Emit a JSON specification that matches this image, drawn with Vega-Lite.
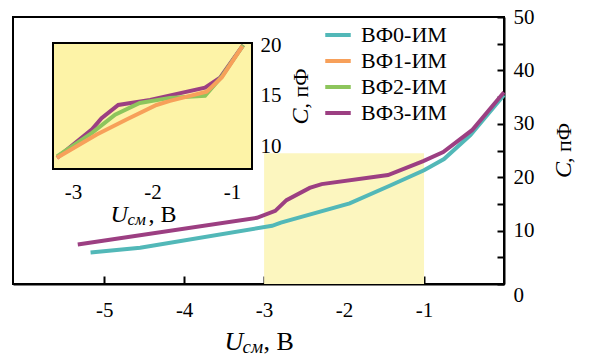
{
  "$schema": "https://vega.github.io/schema/vega-lite/v6.json",
  "width": 491,
  "height": 267,
  "autosize": {"type": "none"},
  "padding": {"left": 13, "top": 17, "right": 86, "bottom": 77},
  "background": "white",
  "config": {
    "font": "Liberation Serif",
    "view": {"stroke": "black", "strokeWidth": 2},
    "axis": {
      "grid": false,
      "zindex": 1,
      "labelFont": "Liberation Serif",
      "labelColor": "black",
      "labelFontSize": 21,
      "tickColor": "black",
      "tickWidth": 2,
      "domainColor": "black",
      "domainWidth": 2,
      "labelFlush": false,
      "labelOverlap": false
    },
    "legend": {"labelFont": "Liberation Serif", "labelColor": "black"},
    "text": {"font": "Liberation Serif", "color": "black"}
  },
  "datasets": {
    "main": [
      {"sample": "ВФ0-ИМ", "u": -5.17, "c": 5.9},
      {"sample": "ВФ0-ИМ", "u": -4.55, "c": 6.8},
      {"sample": "ВФ0-ИМ", "u": -2.9, "c": 10.9},
      {"sample": "ВФ0-ИМ", "u": -2.79, "c": 11.5},
      {"sample": "ВФ0-ИМ", "u": -1.93, "c": 15.1},
      {"sample": "ВФ0-ИМ", "u": -1.43, "c": 18.4},
      {"sample": "ВФ0-ИМ", "u": -1.0, "c": 21.3},
      {"sample": "ВФ0-ИМ", "u": -0.75, "c": 23.4},
      {"sample": "ВФ0-ИМ", "u": -0.42, "c": 27.9},
      {"sample": "ВФ0-ИМ", "u": 0, "c": 35.4},
      {"sample": "ВФ3-ИМ", "u": -5.33, "c": 7.4},
      {"sample": "ВФ3-ИМ", "u": -3.09, "c": 12.4},
      {"sample": "ВФ3-ИМ", "u": -2.86, "c": 13.7},
      {"sample": "ВФ3-ИМ", "u": -2.72, "c": 15.7},
      {"sample": "ВФ3-ИМ", "u": -2.43, "c": 18.0},
      {"sample": "ВФ3-ИМ", "u": -2.28, "c": 18.7},
      {"sample": "ВФ3-ИМ", "u": -1.45, "c": 20.4},
      {"sample": "ВФ3-ИМ", "u": -1.01, "c": 23.0},
      {"sample": "ВФ3-ИМ", "u": -0.76, "c": 24.7},
      {"sample": "ВФ3-ИМ", "u": -0.4, "c": 28.8},
      {"sample": "ВФ3-ИМ", "u": 0, "c": 35.9}
    ],
    "inset": [
      {"sample": "ВФ3-ИМ", "u": -3.2, "c": 8.9},
      {"sample": "ВФ3-ИМ", "u": -2.76, "c": 11.7},
      {"sample": "ВФ3-ИМ", "u": -2.64, "c": 12.8},
      {"sample": "ВФ3-ИМ", "u": -2.43, "c": 14.1},
      {"sample": "ВФ3-ИМ", "u": -2.03, "c": 14.6},
      {"sample": "ВФ3-ИМ", "u": -1.34, "c": 15.8},
      {"sample": "ВФ3-ИМ", "u": -1.15, "c": 16.8},
      {"sample": "ВФ3-ИМ", "u": -0.86, "c": 20.0},
      {"sample": "ВФ2-ИМ", "u": -3.2, "c": 9.05},
      {"sample": "ВФ2-ИМ", "u": -2.76, "c": 11.35},
      {"sample": "ВФ2-ИМ", "u": -2.47, "c": 13.15},
      {"sample": "ВФ2-ИМ", "u": -2.16, "c": 14.3},
      {"sample": "ВФ2-ИМ", "u": -1.78, "c": 14.8},
      {"sample": "ВФ2-ИМ", "u": -1.34, "c": 15.0},
      {"sample": "ВФ2-ИМ", "u": -1.13, "c": 16.9},
      {"sample": "ВФ2-ИМ", "u": -0.86, "c": 20.0},
      {"sample": "ВФ1-ИМ", "u": -3.2, "c": 8.9},
      {"sample": "ВФ1-ИМ", "u": -2.7, "c": 11.2},
      {"sample": "ВФ1-ИМ", "u": -2.32, "c": 12.7},
      {"sample": "ВФ1-ИМ", "u": -1.95, "c": 14.1},
      {"sample": "ВФ1-ИМ", "u": -1.78, "c": 14.5},
      {"sample": "ВФ1-ИМ", "u": -1.32, "c": 15.4},
      {"sample": "ВФ1-ИМ", "u": -1.13, "c": 16.8},
      {"sample": "ВФ1-ИМ", "u": -0.87, "c": 19.9}
    ],
    "zoomRange": [{"u1": -3, "u2": -1, "c1": 0, "c2": 24.5}],
    "insetFrame": [{"u1": -3.25, "u2": -0.75, "c1": 7.8, "c2": 20.2}]
  },
  "layer": [
    {
      "data": {"name": "zoomRange"},
      "mark": {"type": "rect", "color": "#fcf6bf"},
      "encoding": {
        "x": {"field": "u1", "type": "quantitative", "scale": {"domain": [-6.14, 0], "nice": false, "zero": false}, "axis": null},
        "x2": {"field": "u2"},
        "y": {"field": "c1", "type": "quantitative", "scale": {"domain": [0, 50], "nice": false, "zero": false}, "axis": null},
        "y2": {"field": "c2"}
      }
    },
    {
      "data": {"name": "main"},
      "mark": {"type": "line", "strokeWidth": 4},
      "encoding": {
        "x": {
          "field": "u", "type": "quantitative",
          "scale": {"domain": [-6.14, 0], "nice": false, "zero": false},
          "axis": {"orient": "bottom", "title": null, "values": [-5, -4, -3, -2, -1], "tickSize": -8, "labelPadding": 23,
                   "labelExpr": "replace(datum.label, '−', '-')"}
        },
        "y": {
          "field": "c", "type": "quantitative",
          "scale": {"domain": [0, 50], "nice": false, "zero": false},
          "axis": {
            "orient": "right", "title": null,
            "values": [0, 5, 10, 15, 20, 25, 30, 35, 40, 45, 50],
            "labelExpr": "datum.value % 10 === 0 ? datum.label : ''",
            "tickSize": -7, "labelPadding": 16, "labelAlign": "left",
            "labelBaseline": {"condition": {"test": "datum.value === 0", "value": "top"}, "value": "middle"}
          }
        },
        "color": {
          "field": "sample", "type": "nominal",
          "scale": {"domain": ["ВФ0-ИМ", "ВФ1-ИМ", "ВФ2-ИМ", "ВФ3-ИМ"], "range": ["#52b8b8", "#f7a05a", "#8dc55c", "#9c3f82"]},
          "legend": {
            "title": null, "orient": "none", "legendX": 310, "legendY": 3,
            "symbolType": "stroke", "symbolSize": 650, "symbolStrokeWidth": 4,
            "labelFont": "Liberation Serif", "labelFontSize": 22, "labelColor": "black",
            "labelOffset": 8, "rowPadding": -4, "padding": 0, "labelLimit": 300
          }
        }
      }
    },
    {
      "data": {"values": [{}]},
      "mark": {"type": "text", "text": "U", "fontStyle": "italic", "fontSize": 26, "align": "left", "baseline": "alphabetic", "dx": -34},
      "encoding": {
        "x": {"datum": -3.07, "type": "quantitative", "scale": {"domain": [-6.14, 0], "nice": false, "zero": false}, "axis": null},
        "y": {"datum": -12.4, "type": "quantitative", "scale": {"domain": [0, 50], "nice": false, "zero": false}, "axis": null}
      }
    },
    {
      "data": {"values": [{}]},
      "mark": {"type": "text", "text": "см", "fontStyle": "italic", "fontSize": 19, "align": "left", "baseline": "alphabetic", "dx": -16, "dy": 3},
      "encoding": {
        "x": {"datum": -3.07, "type": "quantitative", "scale": {"domain": [-6.14, 0], "nice": false, "zero": false}, "axis": null},
        "y": {"datum": -12.4, "type": "quantitative", "scale": {"domain": [0, 50], "nice": false, "zero": false}, "axis": null}
      }
    },
    {
      "data": {"values": [{}]},
      "mark": {"type": "text", "text": ", В", "fontSize": 26, "align": "left", "baseline": "alphabetic", "dx": 5},
      "encoding": {
        "x": {"datum": -3.07, "type": "quantitative", "scale": {"domain": [-6.14, 0], "nice": false, "zero": false}, "axis": null},
        "y": {"datum": -12.4, "type": "quantitative", "scale": {"domain": [0, 50], "nice": false, "zero": false}, "axis": null}
      }
    },
    {
      "data": {"values": [{}]},
      "mark": {"type": "text", "text": "C", "fontStyle": "italic", "fontSize": 24, "align": "left", "baseline": "middle", "angle": 270},
      "encoding": {
        "x": {"datum": 0.7475, "type": "quantitative", "scale": {"domain": [-6.14, 0], "nice": false, "zero": false}, "axis": null},
        "y": {"datum": 19.85, "type": "quantitative", "scale": {"domain": [0, 50], "nice": false, "zero": false}, "axis": null}
      }
    },
    {
      "data": {"values": [{}]},
      "mark": {"type": "text", "text": ", пФ", "fontSize": 22, "align": "left", "baseline": "middle", "angle": 270, "dx": 15},
      "encoding": {
        "x": {"datum": 0.7475, "type": "quantitative", "scale": {"domain": [-6.14, 0], "nice": false, "zero": false}, "axis": null},
        "y": {"datum": 19.85, "type": "quantitative", "scale": {"domain": [0, 50], "nice": false, "zero": false}, "axis": null}
      }
    },
    {
      "data": {"name": "insetFrame"},
      "mark": {"type": "rect", "color": "#fdf3a7", "stroke": "black", "strokeWidth": 2},
      "encoding": {
        "x": {"field": "u1", "type": "quantitative", "scale": {"domain": [-3.25, -0.75], "range": [40, 239], "nice": false, "zero": false}, "axis": null},
        "x2": {"field": "u2"},
        "y": {"field": "c1", "type": "quantitative", "scale": {"domain": [7.8, 20.2], "range": [152, 26], "nice": false, "zero": false}, "axis": null},
        "y2": {"field": "c2"}
      }
    },
    {
      "data": {"name": "inset"},
      "mark": {"type": "line", "strokeWidth": 4},
      "encoding": {
        "x": {
          "field": "u", "type": "quantitative",
          "scale": {"domain": [-3.25, -0.75], "range": [40, 239], "nice": false, "zero": false},
          "axis": {"orient": "bottom", "offset": -115, "title": null, "values": [-3, -2, -1], "tickSize": -7, "labelPadding": 19, "domain": false,
                   "labelExpr": "replace(datum.label, '−', '-')"}
        },
        "y": {
          "field": "c", "type": "quantitative",
          "scale": {"domain": [7.8, 20.2], "range": [152, 26], "nice": false, "zero": false},
          "axis": {
            "orient": "right", "offset": -252, "title": null,
            "values": [10, 12.5, 15, 17.5, 20],
            "labelExpr": "datum.value % 5 === 0 ? datum.label : ''",
            "tickSize": -8, "labelPadding": 16, "labelAlign": "left", "domain": false
          }
        },
        "color": {
          "field": "sample", "type": "nominal",
          "scale": {"domain": ["ВФ0-ИМ", "ВФ1-ИМ", "ВФ2-ИМ", "ВФ3-ИМ"], "range": ["#52b8b8", "#f7a05a", "#8dc55c", "#9c3f82"]},
          "legend": null
        }
      }
    },
    {
      "data": {"values": [{}]},
      "mark": {"type": "text", "text": "U", "fontStyle": "italic", "fontSize": 24, "align": "left", "baseline": "alphabetic", "dx": -42},
      "encoding": {
        "x": {"datum": -2.0, "type": "quantitative", "scale": {"domain": [-3.25, -0.75], "range": [40, 239], "nice": false, "zero": false}, "axis": null},
        "y": {"datum": 2.6, "type": "quantitative", "scale": {"domain": [7.8, 20.2], "range": [152, 26], "nice": false, "zero": false}, "axis": null}
      }
    },
    {
      "data": {"values": [{}]},
      "mark": {"type": "text", "text": "см", "fontStyle": "italic", "fontSize": 17, "align": "left", "baseline": "alphabetic", "dx": -25, "dy": 3},
      "encoding": {
        "x": {"datum": -2.0, "type": "quantitative", "scale": {"domain": [-3.25, -0.75], "range": [40, 239], "nice": false, "zero": false}, "axis": null},
        "y": {"datum": 2.6, "type": "quantitative", "scale": {"domain": [7.8, 20.2], "range": [152, 26], "nice": false, "zero": false}, "axis": null}
      }
    },
    {
      "data": {"values": [{}]},
      "mark": {"type": "text", "text": ", В", "fontSize": 24, "align": "left", "baseline": "alphabetic", "dx": -4},
      "encoding": {
        "x": {"datum": -2.0, "type": "quantitative", "scale": {"domain": [-3.25, -0.75], "range": [40, 239], "nice": false, "zero": false}, "axis": null},
        "y": {"datum": 2.6, "type": "quantitative", "scale": {"domain": [7.8, 20.2], "range": [152, 26], "nice": false, "zero": false}, "axis": null}
      }
    },
    {
      "data": {"values": [{}]},
      "mark": {"type": "text", "text": "C", "fontStyle": "italic", "fontSize": 24, "align": "left", "baseline": "middle", "angle": 270},
      "encoding": {
        "x": {"datum": -0.134, "type": "quantitative", "scale": {"domain": [-3.25, -0.75], "range": [40, 239], "nice": false, "zero": false}, "axis": null},
        "y": {"datum": 12.17, "type": "quantitative", "scale": {"domain": [7.8, 20.2], "range": [152, 26], "nice": false, "zero": false}, "axis": null}
      }
    },
    {
      "data": {"values": [{}]},
      "mark": {"type": "text", "text": ", пФ", "fontSize": 22, "align": "left", "baseline": "middle", "angle": 270, "dx": 16},
      "encoding": {
        "x": {"datum": -0.134, "type": "quantitative", "scale": {"domain": [-3.25, -0.75], "range": [40, 239], "nice": false, "zero": false}, "axis": null},
        "y": {"datum": 12.17, "type": "quantitative", "scale": {"domain": [7.8, 20.2], "range": [152, 26], "nice": false, "zero": false}, "axis": null}
      }
    }
  ],
  "resolve": {
    "scale": {"x": "independent", "y": "independent", "color": "shared"},
    "axis": {"x": "independent", "y": "independent"}
  }
}
